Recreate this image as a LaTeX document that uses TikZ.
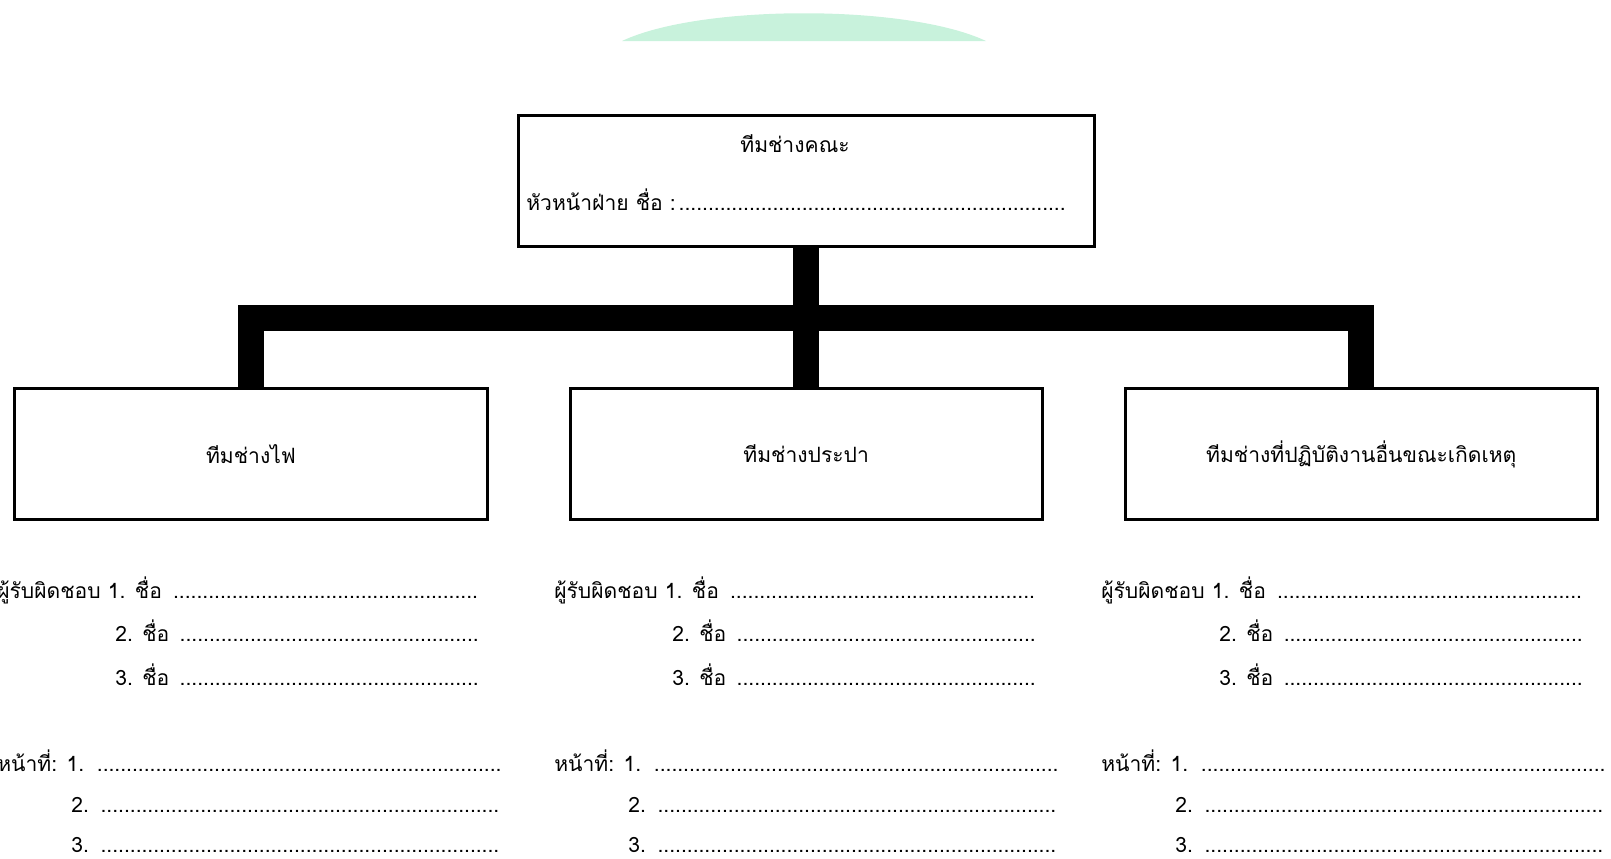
\documentclass[tikz,border=0pt]{standalone}
\usepackage{fontspec}
\setmainfont[Script=Thai]{Loma}
\usetikzlibrary{positioning}
\definecolor{mint}{RGB}{200,242,220}
\newcommand{\dotrow}{\leaders\hbox{.}\hfill}
\tikzset{
  teambox/.style={draw, line width=0.075cm, minimum width=11.8cm, minimum height=3.275cm, inner sep=0pt},
  headbox/.style={teambox, minimum width=14.4cm},
  bar/.style={line width=0.65cm},
  listline/.style={anchor=base west, inner sep=0pt, text depth=0pt}
}
\begin{document}
\begin{tikzpicture}[x=0.025cm,y=-0.025cm,font=\fontsize{15pt}{18pt}\selectfont]
  \useasboundingbox (0,0) rectangle (1611,858);
  %Banner
  \fill[mint] (622,41) .. controls (700,4) and (908,4) .. (986,41) -- cycle;

  %Teams
  \node[teambox] (elec) at (251,454) {ทีมช่างไฟ};
  \node[teambox, right=2cm of elec] (plumb) {ทีมช่างประปา};
  \node[teambox, right=2cm of plumb] (other) {ทีมช่างที่ปฏิบัติงานอื่นขณะเกิดเหตุ};

  %Head
  \node[headbox, above=3.475cm of plumb] (head) {};
  \node[anchor=base] (headtitle) at (795,152) {ทีมช่างคณะ};
  \node[listline] (headname) at (526,210) {\makebox[13.55cm][l]{หัวหน้าฝ่าย ชื่อ :\dotrow}};

  %Bars
  \coordinate (bus) at (0,318);
  \draw[bar] (head.south) -- (plumb.north);
  \draw[bar] (elec.north) -- (elec.north |- bus) -- (other.north |- bus) -- (other.north);

  %Lists
  \foreach \n/\l in {a/-3, b/554, c/1101} {
    \node[listline] (\n-name1) at (\l,598) {\makebox[12.15cm][l]{ผู้รับผิดชอบ 1. ชื่อ \dotrow}};
    \node[listline] (\n-name2) at (\l+118,641) {\makebox[9.2cm][l]{2. ชื่อ \dotrow}};
    \node[listline] (\n-name3) at (\l+118,685) {\makebox[9.2cm][l]{3. ชื่อ \dotrow}};
    \node[listline] (\n-duty1) at (\l,771) {\makebox[12.625cm][l]{หน้าที่: 1. \dotrow}};
    \node[listline] (\n-duty2) at (\l+74,812) {\makebox[10.775cm][l]{2. \dotrow}};
    \node[listline] (\n-duty3) at (\l+74,852) {\makebox[10.775cm][l]{3. \dotrow}};
  }
\end{tikzpicture}
\end{document}
